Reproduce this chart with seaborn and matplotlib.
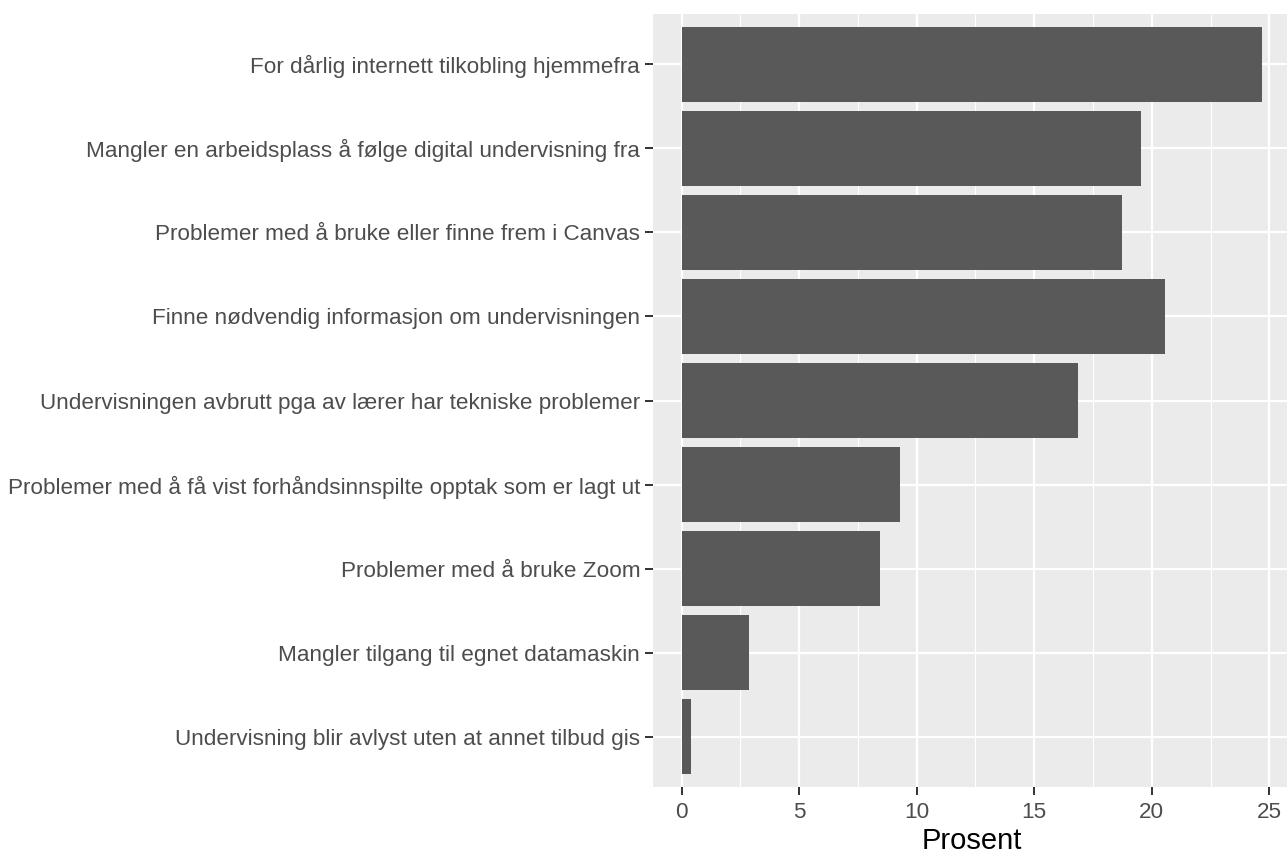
import pandas as pd
import matplotlib
matplotlib.use("Agg")
import matplotlib.pyplot as plt
import seaborn as sns
from matplotlib.ticker import MultipleLocator

## Data ##
kategorier = [
    "For dårlig internett tilkobling hjemmefra",
    "Mangler en arbeidsplass å følge digital undervisning fra",
    "Problemer med å bruke eller finne frem i Canvas",
    "Finne nødvendig informasjon om undervisningen",
    "Undervisningen avbrutt pga av lærer har tekniske problemer",
    "Problemer med å få vist forhåndsinnspilte opptak som er lagt ut",
    "Problemer med å bruke Zoom",
    "Mangler tilgang til egnet datamaskin",
    "Undervisning blir avlyst uten at annet tilbud gis",
]
prosent = [24.69, 19.53, 18.72, 20.55, 16.85, 9.28, 8.45, 2.85, 0.39]
x_ticks = [0, 5, 10, 15, 20, 25]

df = pd.DataFrame({"Problem": kategorier, "Prosent": prosent})

sns.set_theme(style="darkgrid", rc={
    "axes.facecolor": "#EBEBEB",
    "grid.color": "white",
    "axes.edgecolor": "#EBEBEB",
})
plt.rcParams["font.family"] = ["Liberation Sans", "DejaVu Sans"]

fig = plt.figure(figsize=(12.87, 8.57), dpi=100)
ax = fig.add_axes([652.7 / 1287, 1 - 787 / 857, (1291 - 652.7) / 1287, (787 - 14) / 857])

sns.barplot(data=df, x="Prosent", y="Problem", orient="h", color="#595959",
            saturation=1, width=0.9, ax=ax, edgecolor="none")

xmax = max(prosent)
ax.set_xlim(-0.05 * xmax, xmax * 1.05)
ax.set_ylim(len(kategorier) - 0.4, -0.6)
ax.set_xticks(x_ticks)
ax.xaxis.set_minor_locator(MultipleLocator(2.5))
ax.grid(which="major", color="white", linewidth=1.6)
ax.grid(which="minor", axis="x", color="white", linewidth=0.8)
ax.set_axisbelow(True)
for s in ax.spines.values():
    s.set_visible(False)

ax.tick_params(axis="both", which="major", length=6, width=1.4, color="#333333",
               labelsize=16.2, labelcolor="#4D4D4D", pad=3, bottom=True, left=True)
ax.tick_params(axis="x", pad=5)
ax.tick_params(axis="x", which="minor", length=0)
ax.set_ylabel("")
ax.set_xlabel("Prosent", fontsize=21, color="black", labelpad=3)

fig.savefig("out.png", dpi=100)
